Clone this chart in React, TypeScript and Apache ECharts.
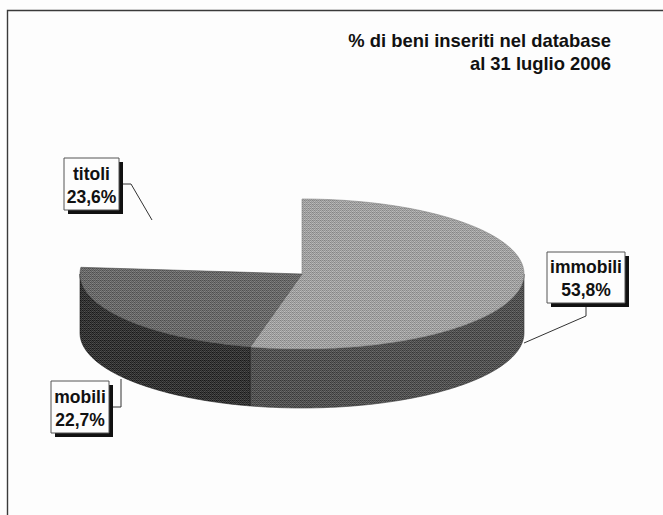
import React, { useEffect, useRef } from "react";
import * as echarts from "echarts";

const titleLines = ["% di beni inseriti nel database", "al 31 luglio 2006"];
const categories = ["immobili", "titoli", "mobili"];
// the order in which the slices run clockwise from twelve o'clock
const sliceOrder = ["immobili", "mobili", "titoli"];
const shares: Record<string, number> = { immobili: 53.8, titoli: 23.6, mobili: 22.7 };

const topTones: Record<string, number> = { immobili: 160, mobili: 105 };
const sideTones: Record<string, number> = { immobili: 82, mobili: 52 };

const CX = 302, CY = 274, RX = 222, RY = 75, DEPTH = 59;

const labelBoxes: Record<string, { x: number; y: number; w: number; h: number; leader: number[][] }> = {
  titoli: { x: 64, y: 158, w: 55, h: 52, leader: [[119, 184], [131, 184], [152, 220]] },
  mobili: { x: 51, y: 381, w: 58, h: 52, leader: [[109, 407], [121, 407], [121, 379]] },
  immobili: { x: 547, y: 252, w: 78, h: 51, leader: [[586, 303], [586, 316], [524, 343]] },
};

const BAYER = [
  [0, 8, 2, 10],
  [12, 4, 14, 6],
  [3, 11, 1, 9],
  [15, 7, 13, 5],
];
// a halftone-like grain: a fixed 4x4 ordered dither around one grey tone
function grain(tone: number) {
  const c = document.createElement("canvas");
  c.width = 4;
  c.height = 4;
  const g = c.getContext("2d")!;
  for (let y = 0; y < 4; y++) {
    for (let x = 0; x < 4; x++) {
      const v = Math.round(tone + (BAYER[y][x] / 15 - 0.5) * 60);
      g.fillStyle = `rgb(${v},${v},${v})`;
      g.fillRect(x, y, 1, 1);
    }
  }
  return { image: c, repeat: "repeat" };
}
const grey = (t: number) => `rgb(${t},${t},${t})`;

const fmt = (v: number) => v.toFixed(1).replace(".", ",") + "%";
const total = sliceOrder.reduce((s, n) => s + shares[n], 0);
const rim = (deg: number, dy = 0) => {
  const a = (deg * Math.PI) / 180;
  return [CX + RX * Math.sin(a), CY - RY * Math.cos(a) + dy];
};
const arc = (from: number, to: number, dy = 0) => {
  const pts: number[][] = [];
  const n = Math.max(2, Math.ceil(Math.abs(to - from)));
  for (let i = 0; i <= n; i++) pts.push(rim(from + ((to - from) * i) / n, dy));
  return pts;
};

function renderItem(params: any) {
  const name = sliceOrder[params.dataIndex];
  if (!topTones[name]) return null;
  let before = 0;
  for (let i = 0; i < params.dataIndex; i++) before += shares[sliceOrder[i]];
  const start = (before / total) * 360;
  const end = ((before + shares[name]) / total) * 360;
  const children: any[] = [];
  const s0 = Math.max(start, 90), s1 = Math.min(end, 270);
  if (s1 > s0) {
    children.push({
      type: "polygon",
      shape: { points: [...arc(s0, s1), ...arc(s1, s0, DEPTH)] },
      style: { fill: grain(sideTones[name]), stroke: grey(sideTones[name] - 30), lineWidth: 0.6 },
    });
  }
  children.push({
    type: "polygon",
    shape: { points: [[CX, CY], ...arc(start, end)] },
    style: { fill: grain(topTones[name]), stroke: grey(topTones[name] - 30), lineWidth: 0.6 },
  });
  return { type: "group", children };
}

export default function App() {
  const ref = useRef<HTMLDivElement>(null);
  useEffect(() => {
    const chart = echarts.init(ref.current!, null, { renderer: "svg" });
    const graphics: any[] = [
      { type: "polyline", shape: { points: [[7.5, 515], [7.5, 10.5], [663, 10.5]] }, style: { fill: "none", stroke: "#3a3a3a", lineWidth: 1.4 }, z: 1 },
    ];
    categories.forEach((c) => {
      const b = labelBoxes[c];
      graphics.push(
        { type: "polyline", shape: { points: b.leader }, style: { fill: "none", stroke: "#333", lineWidth: 1 }, z: 5 },
        { type: "rect", shape: { x: b.x + 4, y: b.y + 4, width: b.w, height: b.h }, style: { fill: "#111" }, z: 6 },
        { type: "rect", shape: { x: b.x, y: b.y, width: b.w, height: b.h }, style: { fill: "#fdfdfd", stroke: "#555", lineWidth: 1 }, z: 7 },
        {
          type: "text", x: b.x + b.w / 2, y: b.y + b.h / 2 + 1, z: 8,
          style: {
            text: `${c}\n${fmt(shares[c])}`, fill: "#111", align: "center", verticalAlign: "middle",
            font: 'bold 17.5px "Liberation Sans", Arial, sans-serif', lineHeight: 23,
          },
        }
      );
    });
    chart.setOption({
      animation: false,
      backgroundColor: "#fdfdfd",
      title: {
        text: titleLines.join("\n"),
        left: 606, top: 24,
        textAlign: "right",
        textStyle: { fontFamily: '"Liberation Sans", Arial, sans-serif', fontSize: 18.4, fontWeight: "bold", color: "#111", lineHeight: 23 },
      },
      series: [{
        type: "custom",
        coordinateSystem: "none",
        silent: true,
        data: sliceOrder.map((n) => ({ name: n, value: shares[n] })),
        renderItem,
      }],
      graphic: graphics,
    });
    return () => chart.dispose();
  }, []);
  return <div ref={ref} style={{ position: "absolute", left: 0, top: 0, width: 663, height: 515 }} />;
}
